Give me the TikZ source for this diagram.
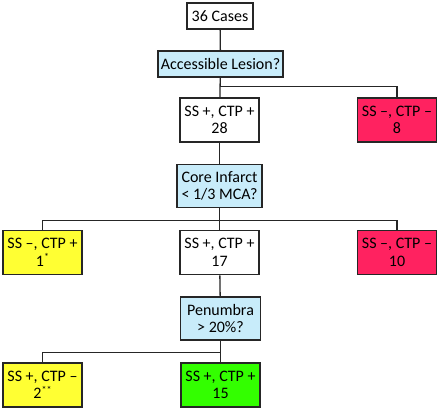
\documentclass[tikz,border=0pt]{standalone}
\usepackage{fontspec}
\setmainfont{Carlito}
\usepackage{xcolor}

\definecolor{qblue}{HTML}{C8ECFA}
\definecolor{qred}{HTML}{FF2260}
\definecolor{qyellow}{HTML}{FFFF33}
\definecolor{qgreen}{HTML}{33FF00}

\newcommand{\upstar}[1]{\raisebox{0.75ex}{\fontsize{10}{10}\selectfont #1}}

\begin{document}
\begin{tikzpicture}[x=1pt,y=-1pt,
	box/.style={draw=black!85, line width=1.6pt, align=center, inner sep=0pt, font=\fontsize{16}{17.5}\selectfont},
	res/.style={box, minimum width=79pt, minimum height=44pt},
	ask/.style={box, fill=qblue},
	link/.style={draw=black!85, line width=1.3pt}]
		\useasboundingbox (0,0) rectangle (440,410);
		
		\node[box, minimum width=66pt, minimum height=26pt] (cases) at (220,16) {36 Cases};
		\node[ask, minimum width=125pt, minimum height=26pt] (access) at (220.5,64) {Accessible Lesion?};
		\node[res] (pos1) at (219.5,120) {SS +, CTP +\\28};
		\node[res, fill=qred] (neg1) at (397,120) {SS –, CTP –\\8};
		
		\node[ask, minimum width=85pt, minimum height=43pt] (core) at (219.5,186) {Core Infarct\\< 1/3 MCA?};
		\node[res, fill=qyellow] (mix2) at (42.5,252.5) {SS –, CTP +\\1\upstar{*}};
		\node[res] (pos2) at (219.5,252.5) {SS +, CTP +\\17};
		\node[res, fill=qred] (neg2) at (397,252.5) {SS –, CTP –\\10};
		
		\node[ask, minimum width=80pt, minimum height=43pt] (pen) at (220.5,318.5) {Penumbra\\> 20\%?};
		\node[res, fill=qyellow] (mix3) at (42.5,385) {SS +, CTP –\\2\upstar{**}};
		\node[res, fill=qgreen] (pos3) at (220.5,385) {SS +, CTP +\\15};
		
		\draw[link] (cases) -- (access);
		\draw[link] (access) -- (pos1);
		\draw[link] (access.south) -- ++(0,9) -| (neg1.north);
		\draw[link] (pos1) -- (core);
		
		\draw[link] (core) -- (pos2);
		\draw[link] (core.south) -- ++(0,12) -| (mix2.north);
		\draw[link] (core.south) -- ++(0,12) -| (neg2.north);
		\draw[link] (pos2) -- (pen);
		
		\draw[link] (pen) -- (pos3);
		\draw[link] (pen.south) -- ++(0,12) -| (mix3.north);
	\end{tikzpicture}
\end{document}
